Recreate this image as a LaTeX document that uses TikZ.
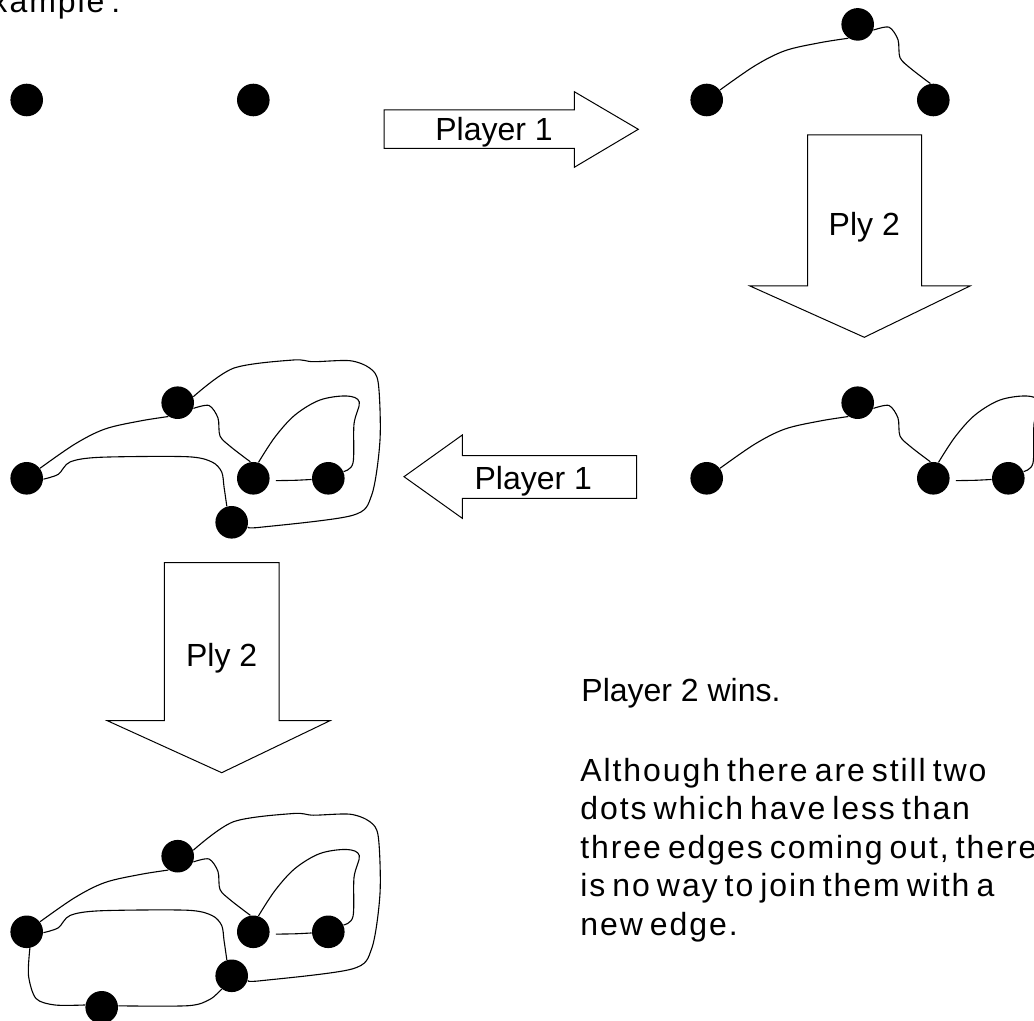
\documentclass[tikz,border=0pt]{standalone}
\usepackage{fontspec}
\setmainfont{Liberation Sans}
\newfontfamily\bodyfont[LetterSpace=6,WordSpace=0.65]{Liberation Sans}
\tikzset{dot/.style={circle,fill,inner sep=0pt,minimum size=16.3pt},
  edge/.style={line width=.55pt},blk/.style={line width=.5pt},
  lbl/.style={font=\fontsize{16}{19}\selectfont,inner sep=0pt,anchor=base},
  txt/.style={font=\bodyfont\fontsize{16}{19.5}\selectfont,inner sep=0pt,anchor=base west}}
% the game, one stage after the other
\newcommand{\startdots}[1]{\node[dot] (#1a) at (26.7,478.3) {};\node[dot] (#1c) at (253.3,478.3) {};}
\newcommand{\stagetop}[1]{\node[dot] (#1b) at (177.7,402.7) {};
  \draw[edge] plot[smooth,tension=.55] coordinates {(#1a.37) (75,444) (105,429) (140,421) (#1b.236)};
  \draw[edge] plot[smooth,tension=.5] coordinates {(#1b.340) (209,405.5) (218,418) (220,436) (231,447) (#1c.100)};}
\newcommand{\stageside}[1]{\node[dot] (#1d) at (328.3,478.3) {};
  \draw[edge] plot[smooth] coordinates {([xshift=3pt]#1c.-8) (295,480.3) (#1d.184)};
  \draw[edge] plot[smooth,tension=.55] coordinates {(#1c.72) (275,437) (295,415) (320,400) (346.7,396) (359.3,402) (354,424) (353,463) (#1d.24)};}
\newcommand{\stagelow}[1]{\node[dot] (#1e) at (231.7,522.3) {};
  \draw[edge] plot[smooth,tension=.5] coordinates {(#1a.-3) (58.3,474.3) (70,462) (100,457.3) (186.7,456.7) (212,462) (221.7,472) (224,486.7) (#1e.107)};
  \draw[edge] plot[smooth,tension=.5] coordinates {(#1b.21) (233.3,368.3) (293.3,360) (313.3,361.7) (350,360.7) (370,368.3) (378.3,383.3) (380,440) (371.7,495) (352,515.5) (260,527.3) (#1e.-16)};}
\newcommand{\stagelast}[1]{\node[dot] (#1f) at (101.7,553.8) {};
  \draw[edge] plot[smooth,tension=.5] coordinates {(#1a.-79) (28.5,522) (36,545) (55,551.5) (#1f.172)};
  \draw[edge] plot[smooth,tension=.5] coordinates {(#1f.5) (188.3,552.2) (210,545.8) (#1e.233)};}

\begin{document}
\begin{tikzpicture}[x=.5pt,y=-.5pt]
\useasboundingbox (0,0) rectangle (1034,1021);
\node[txt] (title) at (-32,12.3) {Example :};

\begin{scope}[shift={(0,-378.3)}]\startdots{s}\end{scope}
\begin{scope}[shift={(680,-378.3)}]\startdots{t}\stagetop{t}\end{scope}
\begin{scope}[shift={(680,0)}]\startdots{r}\stagetop{r}\stageside{r}\end{scope}
\begin{scope}\startdots{m}\stagetop{m}\stageside{m}\stagelow{m}\end{scope}
\begin{scope}[shift={(0,453.5)}]\startdots{b}\stagetop{b}\stageside{b}\stagelow{b}\stagelast{b}\end{scope}

% block arrows between the stages
\draw[blk] (384,110) -- (574.3,110) -- (574.3,91.7) -- (638.3,129.3) -- (574.3,167.3) -- (574.3,148.3) -- (384,148.3) -- cycle;
\node[lbl] (mv1) at (494,141) {Player 1};
\draw[blk] (807.7,135) -- (921.7,135) -- (921.7,286) -- (970,286) -- (864.3,337.3) -- (750,286) -- (807.7,286) -- cycle;
\node[lbl] (mv2) at (864.3,236) {Ply 2};
\draw[blk] (636.7,455.7) -- (462.3,455.7) -- (462.3,435) -- (404,476.7) -- (462.3,518.3) -- (462.3,498.3) -- (636.7,498.3) -- cycle;
\node[lbl] (mv3) at (533.3,490) {Player 1};
\draw[blk] (164.3,562.7) -- (279,562.7) -- (279,720.7) -- (330,720.7) -- (221.7,772.7) -- (107.3,720.7) -- (164.3,720.7) -- cycle;
\node[lbl] (mv4) at (221.7,666.7) {Ply 2};

\node[lbl,anchor=base west] (wins) at (581,701.7) {Player 2 wins.};
\foreach \ln [count=\i from 0] in {Although there are still two,dots which have less than,{three edges coming out, there},is no way to join them with a,new edge.}
  \node[txt] (line\i) at (580,{781+38.6*\i}) {\ln};
\end{tikzpicture}
\end{document}
